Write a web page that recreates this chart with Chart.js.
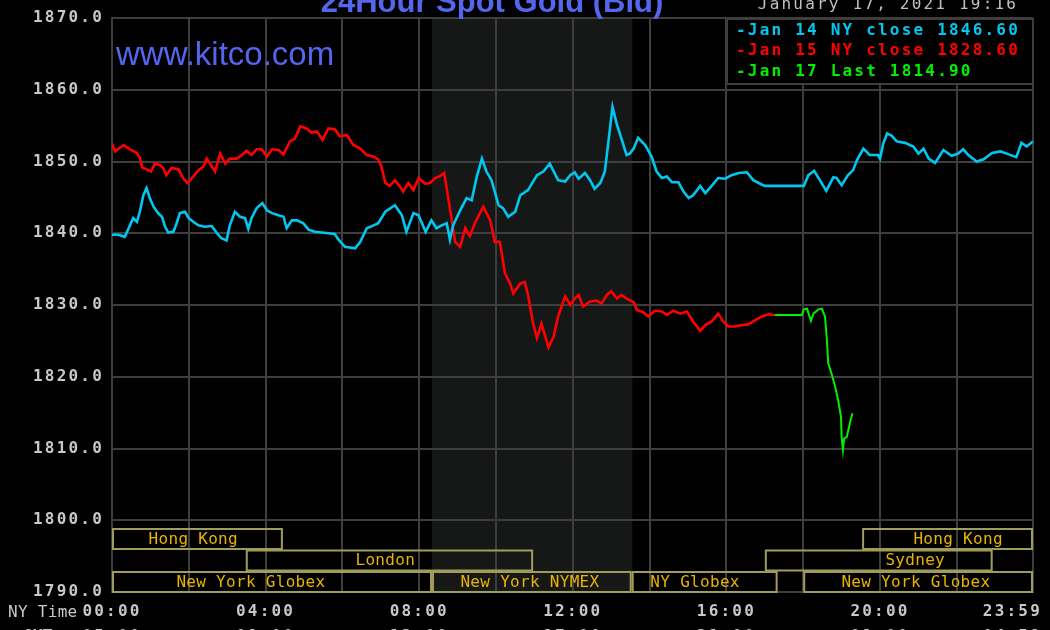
<!DOCTYPE html>
<html>
<head>
<meta charset="utf-8">
<script src="https://cdn.jsdelivr.net/npm/chart.js@4.4.1/dist/chart.umd.min.js"></script>
<style>
  html, body { margin: 0; padding: 0; background: #000; }
  #wrap { width: 1050px; height: 630px; }
</style>
</head>
<body>
<div id="wrap"><canvas id="goldChart"></canvas></div>
<script>
// times are minutes after midnight, NY time
const jan14Time = [0, 10, 20, 25, 33, 39, 44, 49, 54, 59, 65, 72, 78, 83, 88, 96, 101, 106, 114, 120,
  127, 135, 145, 156, 164, 171, 179, 184, 192, 200, 208, 213, 218, 226, 235, 242, 250, 260, 268, 273,
  281, 289, 299, 307, 317, 328, 338, 348, 354, 364, 380, 388, 398, 406, 416, 427, 442, 453, 460, 471,
  479, 490, 499, 507, 515, 523, 528, 533, 544, 554, 562, 570, 578, 585, 593, 604, 611, 619, 630, 638,
  650, 664, 674, 684, 697, 708, 716, 723, 729, 739, 747, 754, 763, 770, 775, 782, 789, 796, 804, 809,
  815, 822, 833, 843, 851, 859, 867, 875, 885, 893, 901, 908, 919, 927, 934, 947, 958, 968, 979, 992,
  1002, 1015, 1020, 1081, 1088, 1097, 1106, 1116, 1127, 1132, 1140, 1150, 1158, 1164, 1174, 1184, 1197, 1200, 1205, 1211,
  1218, 1226, 1239, 1252, 1260, 1268, 1276, 1286, 1299, 1312, 1322, 1330, 1338, 1351, 1362, 1375, 1388, 1398, 1413, 1421,
  1429, 1439];
const jan14Price = [1839.8, 1839.8, 1839.5, 1840.5, 1842.1, 1841.6, 1843.2, 1845.3, 1846.3, 1844.9, 1843.7, 1842.8, 1842.3, 1840.9, 1840.1, 1840.2, 1841.4, 1842.8, 1843.0, 1842.1,
  1841.6, 1841.1, 1840.9, 1841.0, 1840.0, 1839.3, 1839.0, 1841.1, 1843.0, 1842.3, 1842.1, 1840.6, 1842.1, 1843.5, 1844.2, 1843.2, 1842.8, 1842.5, 1842.3, 1840.7,
  1841.8, 1841.8, 1841.4, 1840.5, 1840.2, 1840.1, 1840.0, 1839.9, 1839.1, 1838.1, 1837.9, 1838.8, 1840.7, 1841.0, 1841.4, 1843.0, 1843.9, 1842.5, 1840.2, 1842.8,
  1842.5, 1840.2, 1841.8, 1840.7, 1841.1, 1841.4, 1839.1, 1841.1, 1843.2, 1844.9, 1844.6, 1847.9, 1850.4, 1848.6, 1847.4, 1843.9, 1843.5, 1842.3, 1843.0, 1845.3,
  1846.0, 1848.1, 1848.6, 1849.7, 1847.4, 1847.2, 1848.1, 1848.5, 1847.6, 1848.4, 1847.4, 1846.2, 1847.0, 1848.6, 1852.3, 1857.6, 1855.1, 1853.2, 1850.9, 1851.1,
  1851.8, 1853.3, 1852.3, 1850.7, 1848.6, 1847.7, 1847.9, 1847.1, 1847.1, 1845.8, 1844.9, 1845.3, 1846.6, 1845.6, 1846.3, 1847.7, 1847.6, 1848.1, 1848.4, 1848.5,
  1847.4, 1846.8, 1846.6, 1846.6, 1848.1, 1848.7, 1847.4, 1845.9, 1847.8, 1847.7, 1846.7, 1848.1, 1848.8, 1850.2, 1851.8, 1850.9, 1850.9, 1850.4, 1852.5, 1853.9,
  1853.6, 1852.8, 1852.6, 1852.1, 1851.1, 1851.8, 1850.4, 1849.8, 1851.6, 1850.8, 1851.1, 1851.7, 1850.9, 1850.0, 1850.3, 1851.2, 1851.4, 1851.1, 1850.6, 1852.6,
  1852.1, 1852.8];

const jan15Time = [0, 5, 18, 28, 39, 44, 47, 54, 61, 67, 75, 80, 85, 93, 104, 111, 118, 125, 135, 143,
  148, 153, 161, 169, 177, 184, 195, 203, 210, 218, 226, 234, 242, 250, 260, 268, 278, 286, 294, 304,
  312, 320, 329, 338, 348, 356, 367, 377, 388, 398, 408, 416, 421, 427, 434, 442, 450, 455, 463, 471,
  479, 489, 497, 505, 513, 519, 525, 531, 536, 544, 552, 559, 567, 580, 591, 598, 606, 614, 622, 627,
  638, 645, 650, 658, 664, 671, 682, 690, 697, 708, 716, 723, 729, 736, 747, 757, 765, 773, 780, 789,
  796, 804, 815, 820, 830, 838, 848, 859, 867, 877, 888, 898, 908, 919, 927, 937, 947, 955, 963, 973,
  984, 994, 1005, 1015, 1026, 1035];
const jan15Price = [1852.5, 1851.4, 1852.3, 1851.7, 1851.2, 1850.4, 1849.2, 1848.9, 1848.6, 1849.7, 1849.5, 1849.1, 1848.1, 1849.1, 1848.9, 1847.7, 1847.0, 1847.7, 1848.8, 1849.3,
  1850.4, 1849.7, 1848.6, 1851.1, 1849.7, 1850.4, 1850.4, 1850.9, 1851.5, 1850.9, 1851.7, 1851.7, 1850.7, 1851.7, 1851.6, 1851.0, 1852.8, 1853.2, 1854.9, 1854.6,
  1854.0, 1854.2, 1853.0, 1854.6, 1854.5, 1853.5, 1853.7, 1852.3, 1851.8, 1850.9, 1850.7, 1850.3, 1849.3, 1847.0, 1846.6, 1847.4, 1846.5, 1845.8, 1847.0, 1846.0,
  1847.7, 1846.9, 1847.0, 1847.7, 1848.0, 1848.4, 1845.1, 1841.8, 1838.8, 1838.1, 1840.7, 1839.6, 1841.4, 1843.7, 1841.8, 1838.8, 1838.8, 1834.4, 1833.0, 1831.6,
  1833.0, 1833.2, 1831.4, 1827.4, 1825.4, 1827.4, 1824.1, 1825.6, 1828.4, 1831.2, 1830.0, 1830.9, 1831.4, 1829.8, 1830.5, 1830.6, 1830.2, 1831.4, 1831.9, 1830.9,
  1831.4, 1830.9, 1830.4, 1829.3, 1829.0, 1828.4, 1829.2, 1829.1, 1828.6, 1829.2, 1828.8, 1829.1, 1827.7, 1826.4, 1827.2, 1827.7, 1828.8, 1827.7, 1827.0, 1827.0,
  1827.2, 1827.3, 1827.9, 1828.4, 1828.7, 1828.6];

const jan17Time = [1035, 1078, 1081, 1086, 1092, 1096, 1104, 1109, 1114, 1117, 1119, 1124, 1130, 1135, 1139, 1140, 1142, 1144, 1148, 1151,
  1154, 1157];
const jan17Price = [1828.6, 1828.6, 1829.4, 1829.5, 1827.8, 1828.8, 1829.4, 1829.5, 1828.4, 1825.1, 1821.9, 1820.5, 1818.6, 1816.5, 1814.4, 1811.6, 1809.8, 1811.4, 1811.6, 1812.8,
  1814.0, 1814.9];

const gridMinutes = [0, 120, 240, 360, 480, 600, 720, 840, 960, 1080, 1200, 1320, 1439];
const tickMinutes = [0, 240, 480, 720, 960, 1200, 1439];
const nyLabels = ["00:00", "04:00", "08:00", "12:00", "16:00", "20:00", "23:59"];
const gmtLabels = ["05:00", "09:00", "13:00", "17:00", "21:00", "01:00", "04:59"];

// trading sessions along the bottom
const sessionNames = ["Hong Kong", "London", "New York Globex", "New York NYMEX", "NY Globex", "Sydney", "Hong Kong", "New York Globex"];
const sessionStart = [0, 209, 0, 500, 812, 1020, 1172, 1080];
const sessionEnd = [267, 658, 500, 812, 1040, 1376, 1439, 1439];
const sessionRow = [0, 1, 2, 2, 2, 1, 0, 2];
const sessionLabelAt = [127, 427, 217, 653, 911, 1255, 1322, 1256];
const nymexShade = [500, 813];

const MONO = "'DejaVu Sans Mono', 'Liberation Mono', monospace";
const GREY = "#c8c8c8";
const GRID = "#3e3e3e";
const KITCO_BLUE = "#5566ee";

function toPoints(t, p) {
  return t.map((m, i) => ({ x: m, y: p[i] }));
}

const backdrop = {
  id: "backdrop",
  beforeDraw(chart) {
    const { ctx, chartArea: a, scales: { x } } = chart;
    ctx.save();
    ctx.fillStyle = "#000";
    ctx.fillRect(0, 0, chart.width, chart.height);
    // NYMEX open hours
    const x0 = x.getPixelForValue(nymexShade[0]);
    const x1 = x.getPixelForValue(nymexShade[1]);
    ctx.fillStyle = "#161818";
    ctx.fillRect(x0, a.top, x1 - x0, a.bottom - a.top);
    ctx.restore();
    ctx.letterSpacing = "2.2px"; // wide terminal-style digits on the axis
  }
};

const sessions = {
  id: "sessions",
  afterDatasetsDraw(chart) {
    const { ctx, chartArea: a, scales: { x } } = chart;
    ctx.save();
    ctx.letterSpacing = "0.3px";
    ctx.strokeStyle = "#a09c5a";
    ctx.lineWidth = 2;
    ctx.fillStyle = "#e8b400";
    ctx.font = "16px " + MONO;
    ctx.textAlign = "center";
    ctx.textBaseline = "middle";
    sessionNames.forEach((name, i) => {
      const left = x.getPixelForValue(sessionStart[i]) + 1;
      const right = x.getPixelForValue(sessionEnd[i]) - 1;
      const top = a.bottom - 63 + sessionRow[i] * 21.5;
      ctx.strokeRect(left, top, right - left, 20);
      ctx.fillText(name, x.getPixelForValue(sessionLabelAt[i]), top + 10.5);
    });
    ctx.restore();
  }
};

const overlay = {
  id: "overlay",
  afterDraw(chart) {
    const { ctx, chartArea: a, scales: { x } } = chart;
    ctx.save();

    // legend box
    const lw = 306;
    ctx.fillStyle = "#000";
    ctx.fillRect(a.right - lw, a.top, lw, 66);
    ctx.strokeStyle = GRID;
    ctx.lineWidth = 2;
    ctx.strokeRect(a.right - lw, a.top + 1, lw, 65);
    ctx.font = "bold 16px " + MONO;
    ctx.letterSpacing = "2.2px";
    ctx.textAlign = "left";
    ctx.textBaseline = "middle";
    chart.data.datasets.forEach((ds, i) => {
      ctx.fillStyle = ds.borderColor;
      ctx.fillText("-" + ds.label, a.right - lw + 9, a.top + 12.5 + i * 20.5);
    });

    // time labels under the axis
    ctx.fillStyle = GREY;
    ctx.textAlign = "center";
    tickMinutes.forEach((m, i) => {
      const w = ctx.measureText(nyLabels[i]).width;
      const px = Math.min(x.getPixelForValue(m), chart.width - 8 - w / 2);
      ctx.fillText(nyLabels[i], px, a.bottom + 20);
      ctx.fillText(gmtLabels[i], px, a.bottom + 45);
    });

    // date stamp
    ctx.font = "16px " + MONO;
    ctx.fillStyle = "#c0c0c0";
    ctx.fillText("January 17, 2021 19:16", 888, 5);

    ctx.letterSpacing = "0.3px";
    ctx.textAlign = "left";
    ctx.fillStyle = GREY;
    ctx.fillText("NY Time", 8, a.bottom + 21);
    ctx.fillText("GMT", 23, a.bottom + 45);

    // title and site name
    ctx.letterSpacing = "0px";
    ctx.fillStyle = KITCO_BLUE;
    ctx.textBaseline = "alphabetic";
    ctx.textAlign = "center";
    ctx.font = "bold 31px 'Liberation Sans', Arial, sans-serif";
    ctx.fillText("24Hour Spot Gold (Bid)", 492, 12);
    ctx.textAlign = "left";
    ctx.font = "33px 'Liberation Sans', Arial, sans-serif";
    ctx.fillText("www.kitco.com", 116, 65);
    ctx.restore();
  }
};

const ctx = document.getElementById("goldChart").getContext("2d");
new Chart(ctx, {
  type: "line",
  data: {
    datasets: [
      { label: "Jan 14 NY close 1846.60", data: toPoints(jan14Time, jan14Price), borderColor: "#00c8f0", borderWidth: 2.6 },
      { label: "Jan 15 NY close 1828.60", data: toPoints(jan15Time, jan15Price), borderColor: "#ff0000", borderWidth: 2.6 },
      { label: "Jan 17 Last 1814.90", data: toPoints(jan17Time, jan17Price), borderColor: "#00f000", borderWidth: 2 }
    ]
  },
  options: {
    responsive: true,
    maintainAspectRatio: false,
    animation: false,
    layout: { padding: { top: 18, right: 17, left: 0, bottom: 0 } },
    elements: { point: { radius: 0 }, line: { tension: 0 } },
    plugins: { legend: { display: false }, tooltip: { enabled: false } },
    scales: {
      x: {
        type: "linear",
        min: 0,
        max: 1439,
        grid: { color: GRID, lineWidth: 2, drawTicks: false },
        border: { color: GRID, width: 2 },
        ticks: { display: false },
        afterBuildTicks: (s) => { s.ticks = gridMinutes.map((v) => ({ value: v })); },
        afterFit: (s) => { s.height = 38; }
      },
      y: {
        min: 1790,
        max: 1870,
        grid: { color: GRID, lineWidth: 2, drawTicks: false },
        border: { color: GRID, width: 2 },
        ticks: {
          stepSize: 10,
          padding: 8,
          color: GREY,
          font: { family: MONO, size: 16, weight: "bold" },
          callback: (v) => v.toFixed(1)
        },
        afterFit: (s) => { s.width = 112; }
      }
    }
  },
  plugins: [backdrop, sessions, overlay]
});
</script>
</body>
</html>
